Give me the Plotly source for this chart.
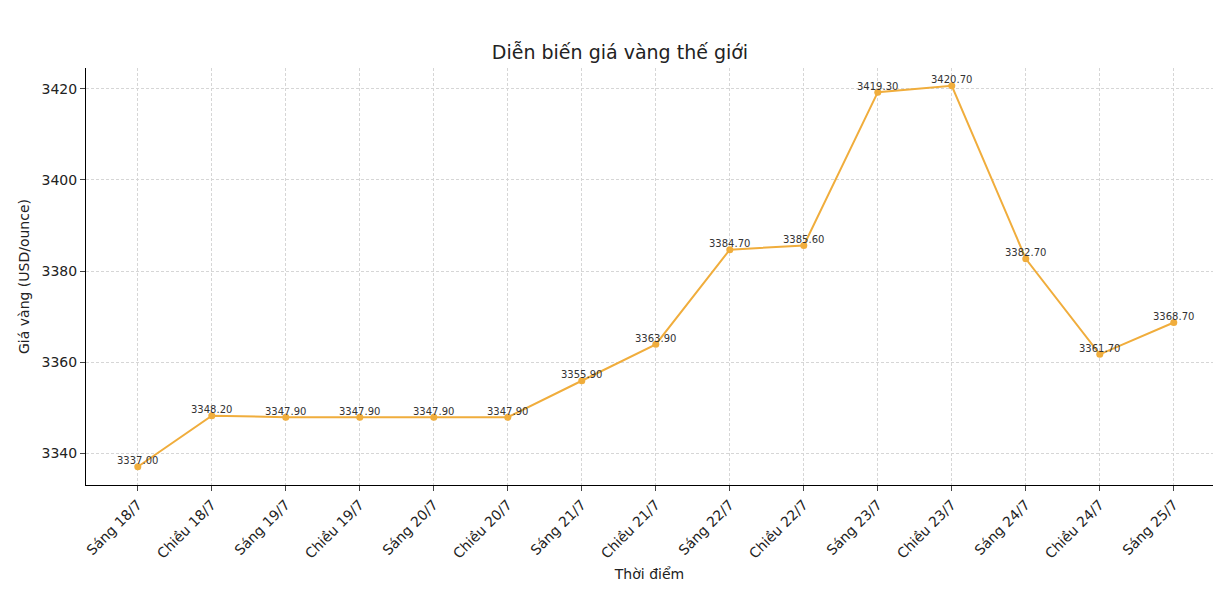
import plotly.graph_objects as go

times = ["Sáng 18/7", "Chiều 18/7", "Sáng 19/7", "Chiều 19/7", "Sáng 20/7",
         "Chiều 20/7", "Sáng 21/7", "Chiều 21/7", "Sáng 22/7", "Chiều 22/7",
         "Sáng 23/7", "Chiều 23/7", "Sáng 24/7", "Chiều 24/7", "Sáng 25/7"]
prices = [3337.00, 3348.20, 3347.90, 3347.90, 3347.90,
          3347.90, 3355.90, 3363.90, 3384.70, 3385.60,
          3419.30, 3420.70, 3382.70, 3361.70, 3368.70]
y_ticks = [3340, 3360, 3380, 3400, 3420]

fig = go.Figure()
fig.add_trace(go.Scatter(
    x=times, y=prices, mode="lines+markers",
    line=dict(color="#f0ad3c", width=2),
    marker=dict(color="#f0ad3c", size=7),
    cliponaxis=False,
))
# value labels sit just above each point, like matplotlib's ax.text
for t, p in zip(times, prices):
    fig.add_annotation(x=t, y=p, text=f"{p:.2f}", showarrow=False,
                       yshift=6, font=dict(size=10, color="#333333"))

fig.update_layout(
    width=1224, height=592,
    margin=dict(l=78, r=19, t=60, b=115),
    plot_bgcolor="white", paper_bgcolor="white",
    font=dict(family="DejaVu Sans", color="#222222"),
    title=dict(text="Diễn biến giá vàng thế giới", x=0.5, xanchor="center",
               y=0.925, yanchor="middle", font=dict(size=19)),
    showlegend=False,
)
fig.update_xaxes(
    title=dict(text="Thời điểm", font=dict(size=14), standoff=8),
    tickangle=-45, tickfont=dict(size=14), automargin=False,
    range=[-0.7, 14.53],
    showline=True, linecolor="black", linewidth=1,
    ticks="outside", ticklen=5,
    showgrid=True, gridcolor="#d6d6d6", griddash="3px,2px", gridwidth=1,
)
fig.update_yaxes(
    title=dict(text="Giá vàng (USD/ounce)", font=dict(size=14), standoff=8),
    tickvals=y_ticks, tickfont=dict(size=14), automargin=False,
    range=[3333, 3424.6],
    showline=True, linecolor="black", linewidth=1,
    ticks="outside", ticklen=5,
    showgrid=True, gridcolor="#d6d6d6", griddash="3px,2px", gridwidth=1,
    zeroline=False,
)

fig.write_html("out.html")
